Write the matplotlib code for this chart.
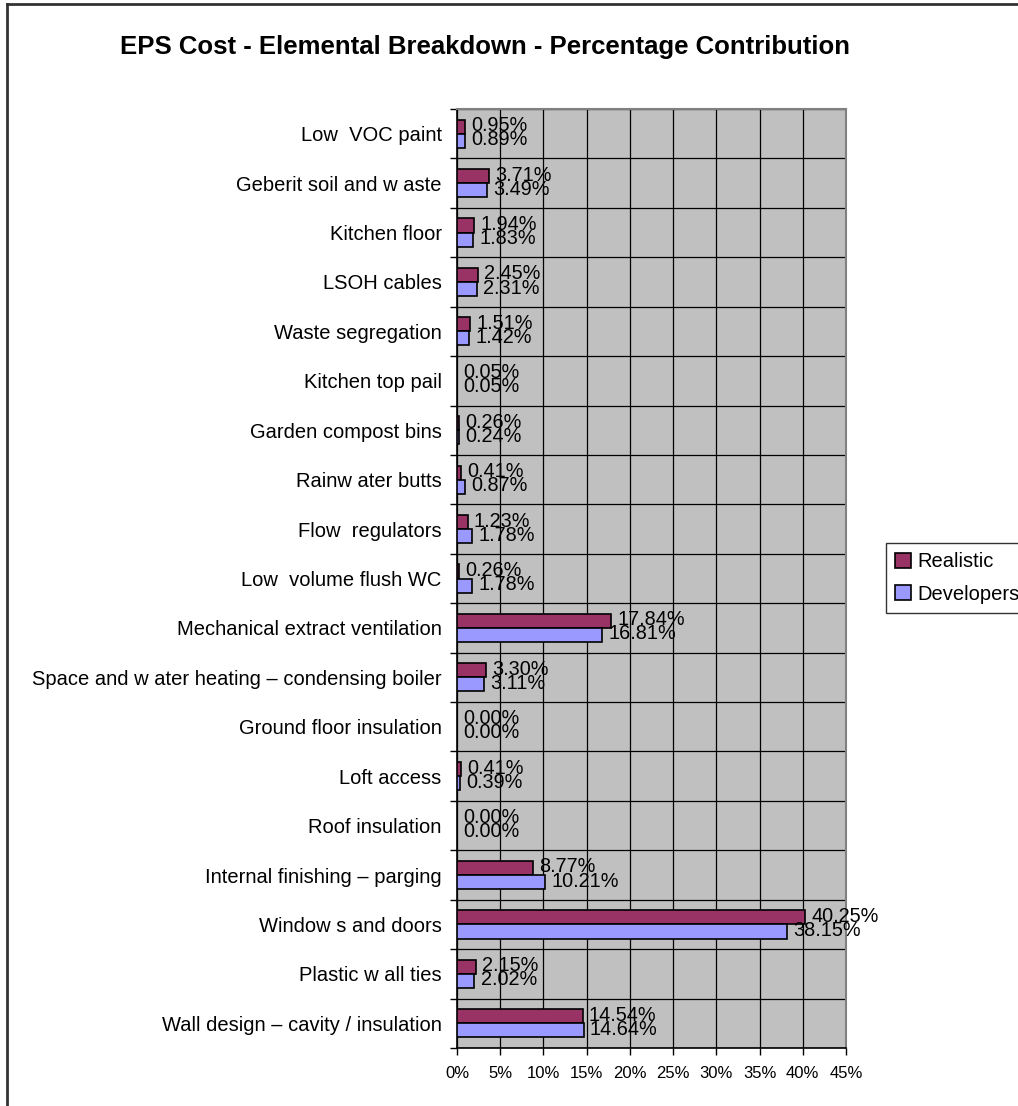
import matplotlib
matplotlib.use("Agg")
import matplotlib.pyplot as plt
import numpy as np
from matplotlib.lines import Line2D
from matplotlib.patches import Patch

plt.rcParams['font.family'] = ['Liberation Sans', 'DejaVu Sans']

categories = [
    "Wall design \u2013 cavity / insulation",
    "Plastic w all ties",
    "Window s and doors",
    "Internal finishing \u2013 parging",
    "Roof insulation",
    "Loft access",
    "Ground floor insulation",
    "Space and w ater heating \u2013 condensing boiler",
    "Mechanical extract ventilation",
    "Low  volume flush WC",
    "Flow  regulators",
    "Rainw ater butts",
    "Garden compost bins",
    "Kitchen top pail",
    "Waste segregation",
    "LSOH cables",
    "Kitchen floor",
    "Geberit soil and w aste",
    "Low  VOC paint",
]
realistic = [14.54, 2.15, 40.25, 8.77, 0.00, 0.41, 0.00, 3.30, 17.84, 0.26,
             1.23, 0.41, 0.26, 0.05, 1.51, 2.45, 1.94, 3.71, 0.95]
developers = [14.64, 2.02, 38.15, 10.21, 0.00, 0.39, 0.00, 3.11, 16.81, 1.78,
              1.78, 0.87, 0.24, 0.05, 1.42, 2.31, 1.83, 3.49, 0.89]
x_ticks = [0, 5, 10, 15, 20, 25, 30, 35, 40, 45]
series_names = ["Realistic", "Developers"]

W, H = 1018, 1106
fig = plt.figure(figsize=(W / 100, H / 100), dpi=100)
ax = fig.add_axes([457 / W, 1 - 1048 / H, (846 - 457) / W, (1048 - 109) / H])
ax.set_facecolor("#C0C0C0")

col_r = "#993366"
col_d = "#9999FF"
bh = 0.285
y = np.arange(len(categories))
ax.barh(y + bh / 2, realistic, height=bh, color=col_r, edgecolor="black", linewidth=1.2, zorder=3)
ax.barh(y - bh / 2, developers, height=bh, color=col_d, edgecolor="black", linewidth=1.2, zorder=3)

for yi, v in zip(y, realistic):
    ax.annotate(f"{v:.2f}%", xy=(v, yi + bh / 2 + 0.02), xytext=(4.5, 0), textcoords="offset points",
                ha="left", va="center", fontsize=14.3, zorder=5)
for yi, v in zip(y, developers):
    ax.annotate(f"{v:.2f}%", xy=(v, yi - bh / 2 + 0.02), xytext=(4.5, 0), textcoords="offset points",
                ha="left", va="center", fontsize=14.3, zorder=5)

ax.set_xlim(0, 45)
ax.set_ylim(-0.5, len(categories) - 0.5)
ax.set_xticks(x_ticks)
ax.set_xticklabels([f"{t}%" for t in x_ticks], fontsize=12)
ax.set_yticks(y)
ax.set_yticklabels(categories, fontsize=14.5)
ax.tick_params(axis="y", which="major", length=0, pad=11)
ax.set_yticks(np.arange(-0.5, len(categories), 1.0), minor=True)
ax.tick_params(axis="y", which="minor", length=5, width=1, color="black", direction="out")
ax.tick_params(axis="x", which="major", length=5, width=1, color="black", direction="out", pad=8)

ax.grid(axis="x", which="major", color="black", linewidth=0.9, zorder=1)
ax.grid(axis="y", which="minor", color="black", linewidth=0.9, zorder=1)
ax.set_axisbelow(True)

for s in ("top", "right"):
    ax.spines[s].set_color("#808080")
    ax.spines[s].set_linewidth(1.5)
for s in ("left", "bottom"):
    ax.spines[s].set_color("black")
    ax.spines[s].set_linewidth(1.2)

fig.text(485 / W, 1 - 47 / H, "EPS Cost - Elemental Breakdown - Percentage Contribution",
         ha="center", va="center", fontsize=18.5, fontweight="bold")

handles = [Patch(facecolor=col_r, edgecolor="black", linewidth=1.2),
           Patch(facecolor=col_d, edgecolor="black", linewidth=1.2)]
leg = fig.legend(handles, series_names, loc="center left", bbox_to_anchor=(886 / W, 1 - 578 / H),
                 fontsize=14.5, frameon=True, fancybox=False, handlelength=0.8, handleheight=0.8,
                 handletextpad=0.3, borderpad=0.45, labelspacing=0.65, borderaxespad=0)
leg.get_frame().set_edgecolor("black")
leg.get_frame().set_linewidth(1.0)

# outer chart-area frame
fig.add_artist(Line2D([7 / W, 7 / W], [0, 1 - 4 / H], color="#333333", linewidth=2, transform=fig.transFigure))
fig.add_artist(Line2D([7 / W, 1], [1 - 4 / H, 1 - 4 / H], color="#333333", linewidth=2, transform=fig.transFigure))

fig.savefig("out.png", dpi=100, facecolor="white")
